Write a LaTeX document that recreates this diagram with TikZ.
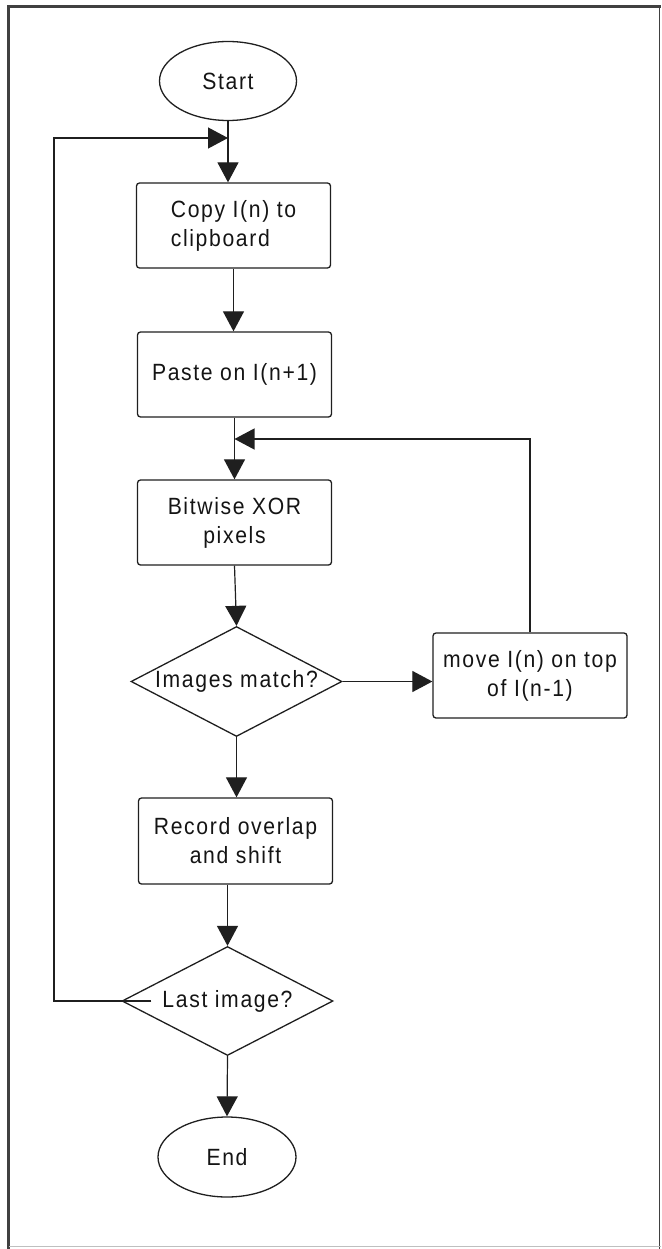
\documentclass[tikz,border=0pt]{standalone}
\usepackage{fontspec}
\setmainfont{Liberation Sans}[LetterSpace=7.0, FakeStretch=0.9]
\usetikzlibrary{shapes.geometric,arrows.meta}

\tikzset{
  base/.style={draw=black!88, line width=1.3pt, inner sep=0pt,
    font=\fontsize{23.5}{29}\selectfont, text=black!92},
  term/.style={base, ellipse},
  proc/.style={base, rectangle, rounded corners=3pt,
    minimum width=194pt, minimum height=85pt},
  decide/.style={base, diamond, aspect=2,
    minimum width=211pt, minimum height=110pt},
  flow/.style={draw=black!88, line width=1.2pt,
    -{Triangle[length=20pt,width=21pt]}},
  frame/.style={line width=2.4pt, draw=black!75, line cap=rect}
}

\begin{document}
\begin{tikzpicture}[x=1pt, y=-1pt]
  \useasboundingbox (0,0) rectangle (661,1249);

  % page frame
  \draw[frame] (8.5,6.5) -- (659.5,6.5);
  \draw[frame] (8.5,6.5) -- (8.5,1249);
  \draw[frame, line width=1.8pt] (659.5,6.5) -- (659.5,1249);
  \draw[line width=1.4pt, draw=black!25] (8.5,1246.5) -- (661,1246.5);

  % steps
  \node[term, minimum width=137pt, minimum height=79pt] (start) at (228,81) {Start};
  \node[proc, align=left] (copy) at (233.5,225.5) {Copy I(n) to\\clipboard};
  \node[proc] (paste) at (234.5,374.5) {\raisebox{5pt}{Paste on I(n+1)}};
  \node[proc, align=center] (xor) at (234.5,522.5) {Bitwise XOR\\pixels};
  \node[decide] (match) at (236.5,681.5) {Images match?};
  \node[proc, align=center] (move) at (530,675.5) {move I(n) on top\\of I(n-1)};
  \node[proc, minimum height=86pt, align=center] (record) at (235.5,841) {Record overlap\\and shift};
  \node[decide, minimum height=109pt] (last) at (227.5,1001) {Last image?};
  \node[term, minimum width=138pt, minimum height=80pt] (end) at (227,1157) {End};

  % junctions where the loops rejoin the main line
  \coordinate (j1) at (start.south |- 0,138);
  \coordinate (j2) at (paste.south |- 0,439);
  \coordinate (lc) at (54,138);

  % main flow
  \draw[flow] (start.south) -- (start.south |- copy.north);
  \draw[flow] (copy.south) -- (copy.south |- paste.north);
  \draw[flow] (paste.south) -- (paste.south |- xor.north);
  \draw[flow] (xor.south) -- (match.north);
  \draw[flow] (match.south) -- (match.south |- record.north);
  \draw[flow] (last.north |- record.south) -- (last.north);
  \draw[flow] (last.south) -- (end.north);

  % no match: shift and retry
  \draw[flow] (match.east) -- (match.east -| move.west);
  \draw[flow] (move.north) |- (j2);

  % next image
  \draw[flow] ([xshift=30pt]last.west) -- (lc |- last.west) -- (lc) -- (j1);
\end{tikzpicture}
\end{document}
